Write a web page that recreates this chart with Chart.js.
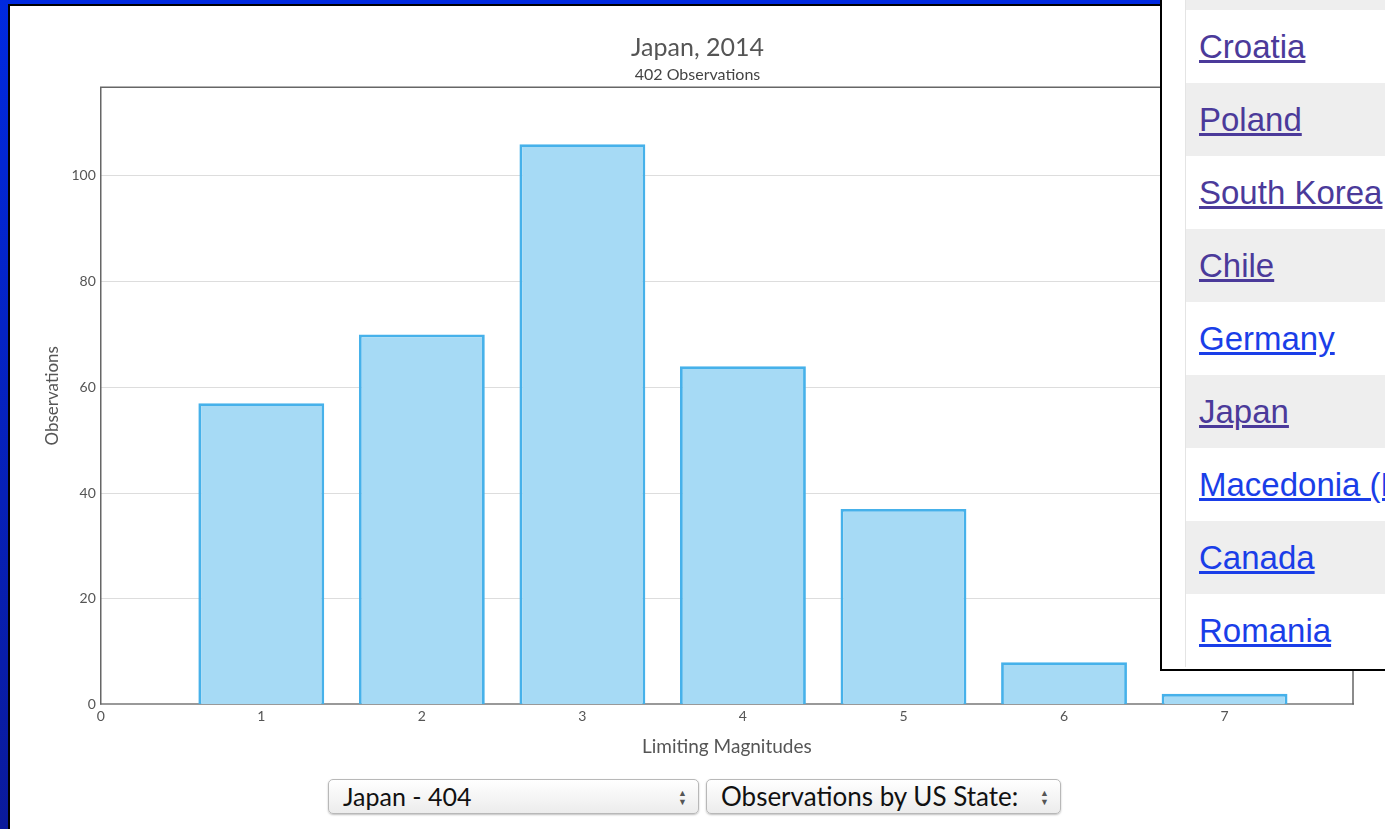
<!DOCTYPE html>
<html lang="en">
<head>
    <meta charset="UTF-8">
    <title>Japan, 2014</title>
    <script src="https://cdn.jsdelivr.net/npm/chart.js"></script>
    <style>
        html, body { margin: 0; padding: 0; }
        body {
            width: 1385px; height: 829px; overflow: hidden; position: relative;
            background: linear-gradient(#0029e0, #0a1a9c);
            font-family: Lato, sans-serif;
        }
        #panel {
            position: absolute; left: 8px; top: 4px; width: 1400px; height: 840px;
            background: #fff; border: 2px solid #000;
        }
        #chartBox { position: absolute; left: 10px; top: 6px; width: 1375px; height: 756px; }
        .sel {
            position: absolute; top: 779px; height: 35px; box-sizing: border-box;
            border: 1px solid #b8b8b8; border-radius: 5px;
            background: linear-gradient(#ffffff, #ececec);
            box-shadow: 0 1px 2px rgba(0,0,0,0.25);
            color: #111; line-height: 33px; padding-left: 14px; white-space: nowrap;
        }
        .sel .arr {
            position: absolute; right: 11px; top: 8px; font-size: 9px; line-height: 9px; color: #555;
        }
        #list {
            position: absolute; left: 1160px; top: -2px; width: 240px; height: 669px;
            background: #fff; border: 2px solid #000; overflow: hidden;
        }
        #list ul { list-style: none; margin: -63px 0 0 0; padding: 0 0 0 23px; }
        #list li {
            height: 73px; line-height: 73px; padding-left: 13px; white-space: nowrap;
            font-family: "Liberation Sans", Arial, sans-serif; font-size: 33px;
            border-left: 1px solid #e4e4e4;
        }
        #list li:nth-child(odd) { background: #eeeeee; }
        #list a { color: #1a3ee8; text-decoration: underline; }
        #list a.v { color: #4b3a9a; }
    </style>
</head>
<body>
    <div id="panel"></div>
    <div id="chartBox"><canvas id="myChart"></canvas></div>

    <div class="sel" style="left:328px;width:371px;font-size:25px;">Japan - 404<div class="arr">&#9650;<br>&#9660;</div></div>
    <div class="sel" style="left:706px;width:355px;font-size:26px;">Observations by US State:<div class="arr">&#9650;<br>&#9660;</div></div>

    <div id="list">
        <ul>
            <li>&nbsp;</li>
            <li><a class="v" href="#">Croatia</a></li>
            <li><a class="v" href="#">Poland</a></li>
            <li><a class="v" href="#">South Korea</a></li>
            <li><a class="v" href="#">Chile</a></li>
            <li><a href="#">Germany</a></li>
            <li><a class="v" href="#">Japan</a></li>
            <li><a href="#">Macedonia (FYROM)</a></li>
            <li><a href="#">Canada</a></li>
            <li><a href="#">Romania</a></li>
        </ul>
    </div>

    <script>
        // chart data
        var magnitudes = [1, 2, 3, 4, 5, 6, 7];
        var observations = [57, 70, 106, 64, 37, 8, 2];
        var titleText = 'Japan, 2014';
        var subtitleText = '402 Observations';

        // dark frame round the plot area (left, top, right)
        var frame = {
            id: 'frame',
            afterDatasetsDraw: function(chart) {
                var a = chart.chartArea, c = chart.ctx;
                c.save();
                c.strokeStyle = '#666';
                c.lineWidth = 1.5;
                c.beginPath();
                c.moveTo(a.left, a.bottom);
                c.lineTo(a.left, a.top);
                c.lineTo(a.right, a.top);
                c.lineTo(a.right, a.bottom);
                c.stroke();
                c.restore();
            }
        };

        var ctx = document.getElementById('myChart').getContext('2d');
        var myChart = new Chart(ctx, {
            type: 'bar',
            data: {
                datasets: [{
                    label: 'Observations',
                    data: magnitudes.map(function(m, i) { return { x: m, y: observations[i] }; }),
                    backgroundColor: '#a6daf5',
                    borderColor: '#46b1ea',
                    borderWidth: 2.8,
                    categoryPercentage: 0.8,
                    barPercentage: 0.98
                }]
            },
            options: {
                responsive: true,
                maintainAspectRatio: false,
                animation: false,
                layout: { padding: { left: 32, right: 32, top: 0, bottom: 4 } },
                plugins: {
                    legend: { display: false },
                    tooltip: { enabled: false },
                    title: {
                        display: true,
                        text: titleText,
                        color: '#555',
                        font: { family: 'Lato', size: 25, weight: 'normal' },
                        padding: { top: 27, bottom: 2 }
                    },
                    subtitle: {
                        display: true,
                        text: subtitleText,
                        color: '#444',
                        font: { family: 'Lato', size: 16 },
                        padding: { top: 0, bottom: 3 }
                    }
                },
                scales: {
                    x: {
                        type: 'linear',
                        min: 0,
                        max: 7.8,
                        offset: false,
                        grid: { display: false, drawTicks: false },
                        border: { color: '#999', width: 2 },
                        ticks: { stepSize: 1, color: '#555', font: { family: 'Lato', size: 14 }, padding: 4 },
                        afterBuildTicks: function(scale) {
                            scale.ticks = scale.ticks.filter(function(t) { return Number.isInteger(t.value); });
                        },
                        title: {
                            display: true,
                            text: 'Limiting Magnitudes',
                            color: '#555',
                            font: { family: 'Lato', size: 19 },
                            padding: { top: 6, bottom: 0 }
                        }
                    },
                    y: {
                        min: 0,
                        max: 116.8,
                        grid: { color: '#dddddd', drawTicks: false },
                        border: { display: false },
                        ticks: { stepSize: 20, color: '#555', font: { family: 'Lato', size: 14 }, padding: 5 },
                        afterBuildTicks: function(scale) {
                            scale.ticks = scale.ticks.filter(function(t) { return t.value % 20 === 0; });
                        },
                        title: {
                            display: true,
                            text: 'Observations',
                            color: '#555',
                            font: { family: 'Lato', size: 17 },
                            padding: { top: 0, bottom: 4 }
                        }
                    }
                }
            },
            plugins: [frame]
        });
    </script>
</body>
</html>
